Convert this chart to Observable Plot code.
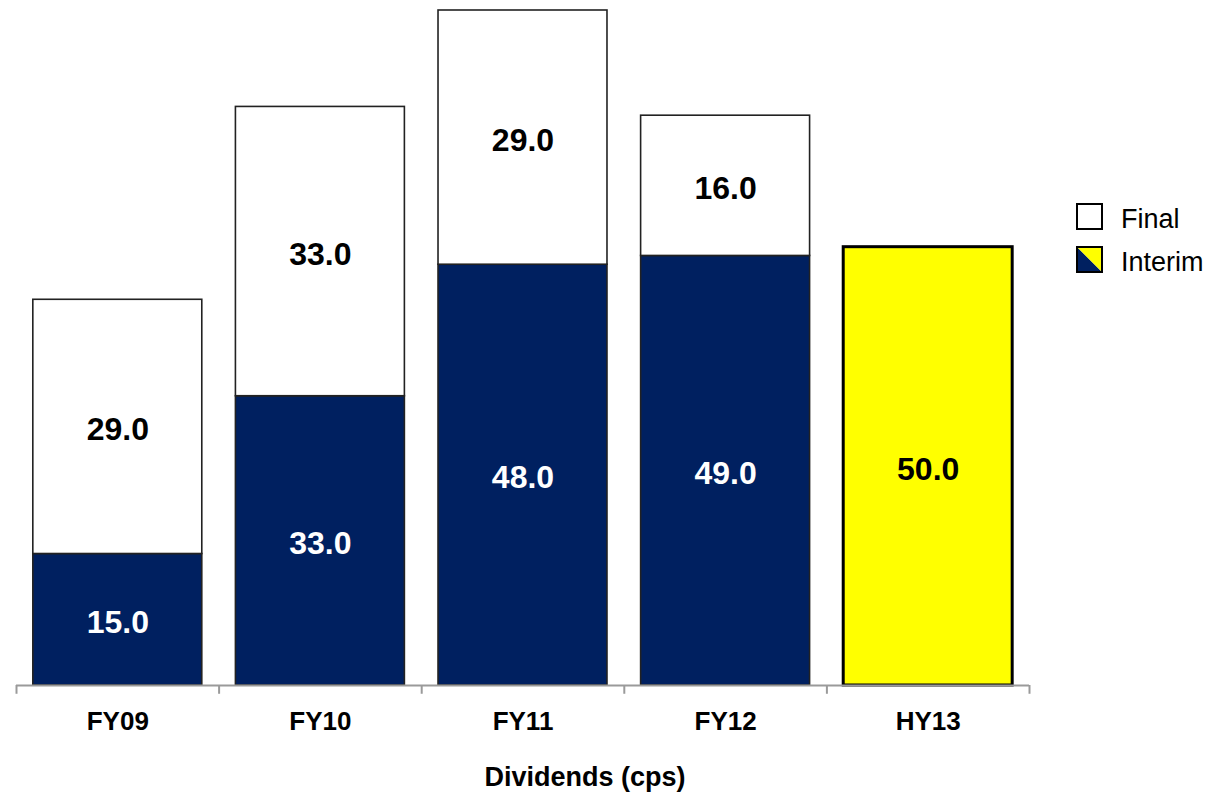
<!DOCTYPE html>
<html>
<head>
<meta charset="utf-8">
<script src="https://cdn.jsdelivr.net/npm/d3@7"></script>
<script src="https://cdn.jsdelivr.net/npm/@observablehq/plot@0.6"></script>
<style>
  html, body { margin: 0; padding: 0; background: #fff; }
  #chart svg { display: block; font-family: "Liberation Sans", Arial, sans-serif; }
</style>
</head>
<body>
<div id="chart"></div>
<script>
// Dividends per share (cents), by period
const categories = ["FY09", "FY10", "FY11", "FY12", "HY13"];
const interim = [15.0, 33.0, 48.0, 49.0, 50.0];
const final = [29.0, 33.0, 29.0, 16.0, null];
const highlighted = ["HY13"];

const NAVY = "#002060";
const YELLOW = "#FFFF00";
const W = 1211, H = 792;
const margin = {top: 10, right: 182, bottom: 107, left: 16};
const gap = 0.166; // share of each slot left empty between bars

// One row per stacked segment; slot i spans [i, i + 1] on the x scale
const rows = [];
categories.forEach((c, i) => {
  const hi = highlighted.includes(c);
  const x1 = i + gap / 2, x2 = i + 1 - gap / 2;
  rows.push({cat: c, i, x1, x2, y1: 0, y2: interim[i], value: interim[i],
    fill: hi ? YELLOW : NAVY, text: hi ? "#000" : "#fff", hi});
  if (final[i] != null) {
    rows.push({cat: c, i, x1, x2, y1: interim[i], y2: interim[i] + final[i], value: final[i],
      fill: "#fff", text: "#000", hi: false});
  }
});

const slotEdges = d3.range(categories.length + 1);
const slotCenters = categories.map((_, i) => i + 0.5);

const plot = Plot.plot({
  width: W,
  height: H,
  marginTop: margin.top,
  marginRight: margin.right,
  marginBottom: margin.bottom,
  marginLeft: margin.left,
  style: {fontFamily: '"Liberation Sans", Arial, sans-serif', background: "#fff"},
  x: {domain: [0, categories.length]},
  y: {domain: [0, 77], axis: null},
  marks: [
    Plot.rectY(rows.filter(d => !d.hi), {
      x1: "x1", x2: "x2", y1: "y1", y2: "y2", fill: d => d.fill, stroke: "#222", strokeWidth: 1.6
    }),
    Plot.rectY(rows.filter(d => d.hi), {
      x1: "x1", x2: "x2", y1: "y1", y2: "y2", fill: d => d.fill, stroke: "#000", strokeWidth: 3
    }),
    Plot.text(rows, {
      x: d => d.i + 0.5, y: d => (d.y1 + d.y2) / 2, text: d => d.value.toFixed(1),
      fill: d => d.text, fontSize: 32, fontWeight: "bold", dy: 3
    }),
    Plot.ruleY([0], {stroke: "#9a9a9a", strokeWidth: 2}),
    Plot.ruleX(slotEdges, {x: d => d, y1: 0, y2: -1, stroke: "#9a9a9a", strokeWidth: 2}),
    Plot.axisX({
      ticks: slotCenters, tickFormat: v => categories[Math.floor(v)],
      tickSize: 0, tickPadding: 26, fontSize: 26, fontWeight: "bold", color: "#000", label: null
    }),
    Plot.text(["Dividends (cps)"], {
      frameAnchor: "bottom", dx: 62, dy: 100, lineAnchor: "bottom",
      fontSize: 27, fontWeight: "bold", fill: "#000"
    })
  ]
});

// Legend
const svg = d3.select(plot);
const lg = svg.append("g")
  .attr("font-family", '"Liberation Sans", Arial, sans-serif')
  .attr("text-anchor", "start");
const lx = 1077, size = 25;
const items = [{label: "Final", y: 204}, {label: "Interim", y: 247}];
items.forEach((it, i) => {
  const g = lg.append("g").attr("transform", `translate(${lx},${it.y})`);
  if (i === 0) {
    g.append("rect").attr("width", size).attr("height", size).attr("fill", "#fff");
  } else {
    g.append("path").attr("d", `M0,0L${size},${size}L0,${size}Z`).attr("fill", NAVY);
    g.append("path").attr("d", `M0,0L${size},0L${size},${size}Z`).attr("fill", YELLOW);
  }
  g.append("rect").attr("width", size).attr("height", size)
    .attr("fill", "none").attr("stroke", "#000").attr("stroke-width", 2);
  lg.append("text").attr("x", 1121).attr("y", it.y + 24)
    .attr("font-size", 27).attr("fill", "#000").attr("text-anchor", "start").text(it.label);
});

document.getElementById("chart").append(plot);
</script>
</body>
</html>
